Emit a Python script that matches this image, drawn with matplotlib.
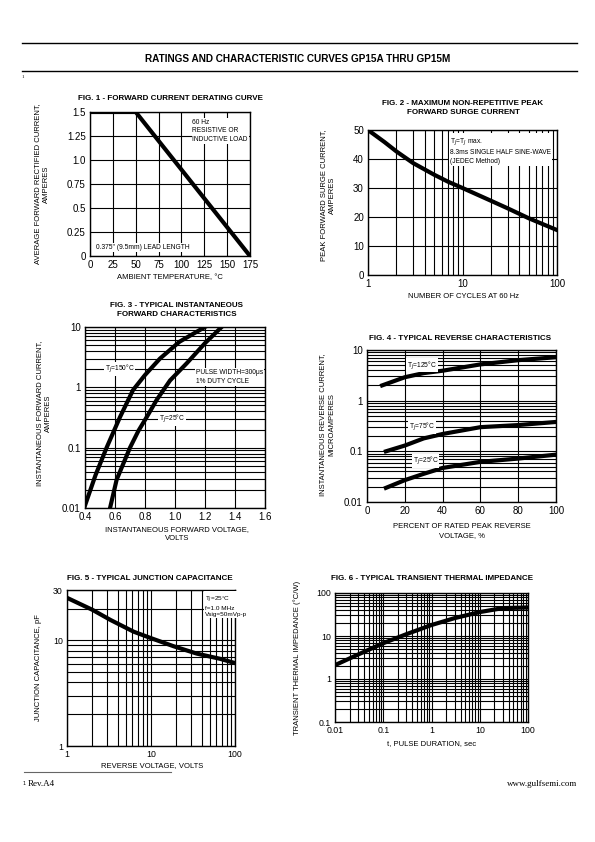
import matplotlib
matplotlib.use("Agg")
import matplotlib.pyplot as plt
from matplotlib.ticker import LogLocator, NullFormatter, FixedLocator

plt.rcParams['font.family'] = ['Liberation Sans', 'DejaVu Sans']

# fig 1 - derating
temp = [0, 50, 175]
avg_current = [1.5, 1.5, 0]

# fig 2 - surge current
cycles = [1, 1.5, 2, 3, 5, 7, 10, 20, 30, 50, 70, 100]
surge = [50, 45.8, 42.6, 38.6, 34.6, 32.2, 30, 25.6, 23, 19.6, 17.6, 15.5]

# fig 3 - forward characteristics
vf_150 = [0.40, 0.47, 0.544, 0.633, 0.72, 0.80, 0.90, 1.03, 1.20]
if_150 = [0.011, 0.035, 0.1, 0.32, 0.9, 1.6, 3.0, 5.7, 10]
vf_25 = [0.567, 0.611, 0.70, 0.756, 0.811, 0.878, 0.967, 1.078, 1.20, 1.311]
if_25 = [0.01, 0.0295, 0.1, 0.19, 0.32, 0.62, 1.3, 2.5, 5.4, 10]

# fig 4 - reverse characteristics
pct_125 = [8, 20, 30, 40, 60, 80, 100]
ir_125 = [2.0, 2.9, 3.5, 3.9, 5.2, 6.3, 7.2]
pct = [10, 20, 30, 40, 60, 80, 100]
ir_75 = [0.1, 0.13, 0.18, 0.22, 0.30, 0.33, 0.38]
ir_25 = [0.019, 0.027, 0.036, 0.047, 0.062, 0.072, 0.086]

# fig 5 - junction capacitance
vr = [1, 2, 3.3, 6.2, 10, 18.6, 35, 66, 100]
cj = [25.3, 19.5, 15.6, 12.1, 10.5, 8.8, 7.5, 6.7, 6.1]

# fig 6 - transient thermal impedance
tp = [0.01, 0.03, 0.1, 0.3, 1, 3, 10, 30, 100]
zth = [2.1, 3.7, 6.8, 11, 18, 26, 36, 44.5, 46]

W, H = 595, 842
fig = plt.figure(figsize=(W / 100, H / 100), dpi=100)

TICK = 7
LAB = 5.5
TTL = 5.8
CURVE = 3.0
BOX = dict(facecolor='white', edgecolor='none', pad=0.6)


def axes_px(x0, y0, x1, y1):
    ax = fig.add_axes([x0 / W, 1 - y1 / H, (x1 - x0) / W, (y1 - y0) / H])
    for s in ax.spines.values():
        s.set_linewidth(1.0)
    ax.tick_params(which='both', length=0, labelsize=TICK, pad=3)
    return ax


def ftext(x, y, s, **kw):
    fig.text(x / W, 1 - y / H, s, **kw)


def log_grid(axis):
    axis.set_minor_locator(LogLocator(base=10, subs=range(2, 10)))
    axis.set_minor_formatter(NullFormatter())


# page header / footer
fig.add_artist(plt.Line2D([22 / W, 577 / W], [1 - 43 / H, 1 - 43 / H], color='black', lw=1.0))
fig.add_artist(plt.Line2D([22 / W, 577 / W], [1 - 71 / H, 1 - 71 / H], color='black', lw=1.0))
ftext(298, 59, "RATINGS AND CHARACTERISTIC CURVES GP15A THRU GP15M", ha='center', va='center',
      fontsize=7.2, fontweight='bold')
ftext(22, 77, "1", fontsize=3.5, va='center', family='Liberation Serif')
fig.add_artist(plt.Line2D([24 / W, 171 / W], [1 - 772 / H, 1 - 772 / H], color='#666666', lw=0.8))
ftext(22, 783, "$^1$", fontsize=5, va='center', family='Liberation Serif')
ftext(28, 784, "Rev.A4", fontsize=6.5, va='center', family='Liberation Serif')
ftext(577, 784, "www.gulfsemi.com", fontsize=6.5, va='center', ha='right', family='Liberation Serif')

# ---- FIG 1
ax1 = axes_px(90, 112, 250, 256)
ax1.plot(temp, avg_current, color='black', lw=CURVE, solid_capstyle='butt')
ax1.set_xlim(0, 175)
ax1.set_ylim(0, 1.5)
ax1.set_xticks([0, 25, 50, 75, 100, 125, 150, 175])
ax1.set_yticks([0, 0.25, 0.5, 0.75, 1.0, 1.25, 1.5])
ax1.set_yticklabels(['0', '0.25', '0.5', '0.75', '1.0', '1.25', '1.5'])
ax1.grid(True, color='black', lw=0.8)
ax1.text(112, 1.43, "60 Hz\nRESISTIVE OR\nINDUCTIVE LOAD", fontsize=4.8, va='top', ha='left',
         linespacing=1.3, bbox=BOX)
ax1.text(7, 0.09, "0.375\" (9.5mm) LEAD LENGTH", fontsize=4.8, va='center', ha='left', bbox=BOX)
ftext(170, 98, "FIG. 1 - FORWARD CURRENT DERATING CURVE", ha='center', va='center',
      fontsize=TTL, fontweight='bold')
ftext(170, 278, "AMBIENT TEMPERATURE, °C", ha='center', va='center', fontsize=LAB)
ftext(42, 184, "AVERAGE FORWARD RECTIFIED CURRENT,\nAMPERES", ha='center', va='center',
      fontsize=LAB, rotation=90, linespacing=1.4)

# ---- FIG 2
ax2 = axes_px(368, 130, 557, 275)
ax2.plot(cycles, surge, color='black', lw=CURVE)
ax2.set_xscale('log')
ax2.set_xlim(1, 100)
ax2.set_ylim(0, 50)
log_grid(ax2.xaxis)
ax2.set_xticks([1, 10, 100])
ax2.set_xticklabels(['1', '10', '100'])
ax2.set_yticks([0, 10, 20, 30, 40, 50])
ax2.grid(True, which='both', color='black', lw=0.8)
ax2.text(7.4, 47.8, "T$_J$=T$_J$ max.\n8.3ms SINGLE HALF SINE-WAVE\n(JEDEC Method)", fontsize=4.8,
         va='top', ha='left', linespacing=1.3, bbox=BOX)
ftext(463, 108, "FIG. 2 - MAXIMUM NON-REPETITIVE PEAK\nFORWARD SURGE CURRENT", ha='center',
      va='center', fontsize=TTL, fontweight='bold', linespacing=1.25)
ftext(463, 297, "NUMBER OF CYCLES AT 60 Hz", ha='center', va='center', fontsize=LAB)
ftext(328, 195, "PEAK FORWARD SURGE CURRENT,\nAMPERES", ha='center', va='center',
      fontsize=LAB, rotation=90, linespacing=1.4)

# ---- FIG 3
ax3 = axes_px(85, 327, 265, 508)
ax3.plot(vf_150, if_150, color='black', lw=CURVE)
ax3.plot(vf_25, if_25, color='black', lw=CURVE)
ax3.set_yscale('log')
ax3.set_xlim(0.4, 1.6)
ax3.set_ylim(0.01, 10)
log_grid(ax3.yaxis)
ax3.set_yticks([0.01, 0.1, 1, 10])
ax3.set_yticklabels(['0.01', '0.1', '1', '10'])
ax3.set_xticks([0.4, 0.6, 0.8, 1.0, 1.2, 1.4, 1.6])
ax3.set_xticklabels(['0.4', '0.6', '0.8', '1.0', '1.2', '1.4', '1.6'])
ax3.grid(True, which='both', color='black', lw=0.8)
ax3.text(0.63, 2.0, "T$_J$=150°C", fontsize=4.8, va='center', ha='center', bbox=BOX)
ax3.text(1.14, 2.0, "PULSE WIDTH=300μs\n1% DUTY CYCLE", fontsize=4.8, va='top', ha='left',
         linespacing=1.4, bbox=BOX)
ax3.text(0.98, 0.3, "T$_J$=25°C", fontsize=4.8, va='center', ha='center', bbox=BOX)
ftext(177, 310, "FIG. 3 - TYPICAL INSTANTANEOUS\nFORWARD CHARACTERISTICS", ha='center',
      va='center', fontsize=TTL, fontweight='bold', linespacing=1.25)
ftext(177, 534, "INSTANTANEOUS FORWARD VOLTAGE,\nVOLTS", ha='center', va='center',
      fontsize=LAB, linespacing=1.4)
ftext(44, 413, "INSTANTANEOUS FORWARD CURRENT,\nAMPERES", ha='center', va='center',
      fontsize=LAB, rotation=90, linespacing=1.4)

# ---- FIG 4
ax4 = axes_px(367, 350, 556, 502)
ax4.plot(pct_125, ir_125, color='black', lw=CURVE)
ax4.plot(pct, ir_75, color='black', lw=CURVE)
ax4.plot(pct, ir_25, color='black', lw=CURVE)
ax4.set_yscale('log')
ax4.set_xlim(0, 100)
ax4.set_ylim(0.01, 10)
log_grid(ax4.yaxis)
ax4.set_yticks([0.01, 0.1, 1, 10])
ax4.set_yticklabels(['0.01', '0.1', '1', '10'])
ax4.set_xticks([0, 20, 40, 60, 80, 100])
ax4.grid(True, which='both', color='black', lw=0.8)
ax4.text(29, 5.0, "T$_J$=125°C", fontsize=4.8, va='center', ha='center', bbox=BOX)
ax4.text(29, 0.3, "T$_J$=75°C", fontsize=4.8, va='center', ha='center', bbox=BOX)
ax4.text(31, 0.064, "T$_J$=25°C", fontsize=4.8, va='center', ha='center', bbox=BOX)
ftext(460, 338, "FIG. 4 - TYPICAL REVERSE CHARACTERISTICS", ha='center', va='center',
      fontsize=TTL, fontweight='bold')
ftext(462, 531, "PERCENT OF RATED PEAK REVERSE\nVOLTAGE, %", ha='center', va='center',
      fontsize=LAB, linespacing=1.4)
ftext(327, 425, "INSTANTANEOUS REVERSE CURRENT,\nMICROAMPERES", ha='center', va='center',
      fontsize=LAB, rotation=90, linespacing=1.4)

# ---- FIG 5
ax5 = axes_px(67, 590, 235, 746)
ax5.plot(vr, cj, color='black', lw=CURVE)
ax5.set_xscale('log')
ax5.set_yscale('log')
ax5.set_xlim(1, 100)
ax5.set_ylim(1, 30)
log_grid(ax5.xaxis)
log_grid(ax5.yaxis)
ax5.set_xticks([1, 10, 100])
ax5.set_xticklabels(['1', '10', '100'])
ax5.yaxis.set_major_locator(FixedLocator([1, 10, 30]))
ax5.set_yticklabels(['1', '10', '30'])
ax5.tick_params(labelsize=6.3)
ax5.grid(True, which='both', color='black', lw=0.8)
ax5.text(0.82, 0.97, "T$_J$=25°C\nf=1.0 MHz\nVsig=50mVp-p", fontsize=4.6, va='top', ha='left',
         linespacing=1.3, bbox=BOX, transform=ax5.transAxes)
ftext(150, 578, "FIG. 5 - TYPICAL JUNCTION CAPACITANCE", ha='center', va='center',
      fontsize=TTL, fontweight='bold')
ftext(152, 766, "REVERSE VOLTAGE, VOLTS", ha='center', va='center', fontsize=LAB)
ftext(38, 668, "JUNCTION CAPACITANCE, pF", ha='center', va='center', fontsize=LAB, rotation=90)

# ---- FIG 6
ax6 = axes_px(335, 593, 528, 722)
ax6.plot(tp, zth, color='black', lw=CURVE)
ax6.set_xscale('log')
ax6.set_yscale('log')
ax6.set_xlim(0.01, 100)
ax6.set_ylim(0.1, 100)
log_grid(ax6.xaxis)
log_grid(ax6.yaxis)
ax6.set_xticks([0.01, 0.1, 1, 10, 100])
ax6.set_xticklabels(['0.01', '0.1', '1', '10', '100'])
ax6.set_yticks([0.1, 1, 10, 100])
ax6.set_yticklabels(['0.1', '1', '10', '100'])
ax6.tick_params(labelsize=6.3)
ax6.grid(True, which='both', color='black', lw=0.8)
ftext(432, 578, "FIG. 6 - TYPICAL TRANSIENT THERMAL IMPEDANCE", ha='center', va='center',
      fontsize=TTL, fontweight='bold')
ftext(432, 744, "t, PULSE DURATION, sec", ha='center', va='center', fontsize=LAB)
ftext(297, 658, "TRANSIENT THERMAL IMPEDANCE (°C/W)", ha='center', va='center',
      fontsize=LAB, rotation=90)

fig.savefig("out.png", dpi=100)
